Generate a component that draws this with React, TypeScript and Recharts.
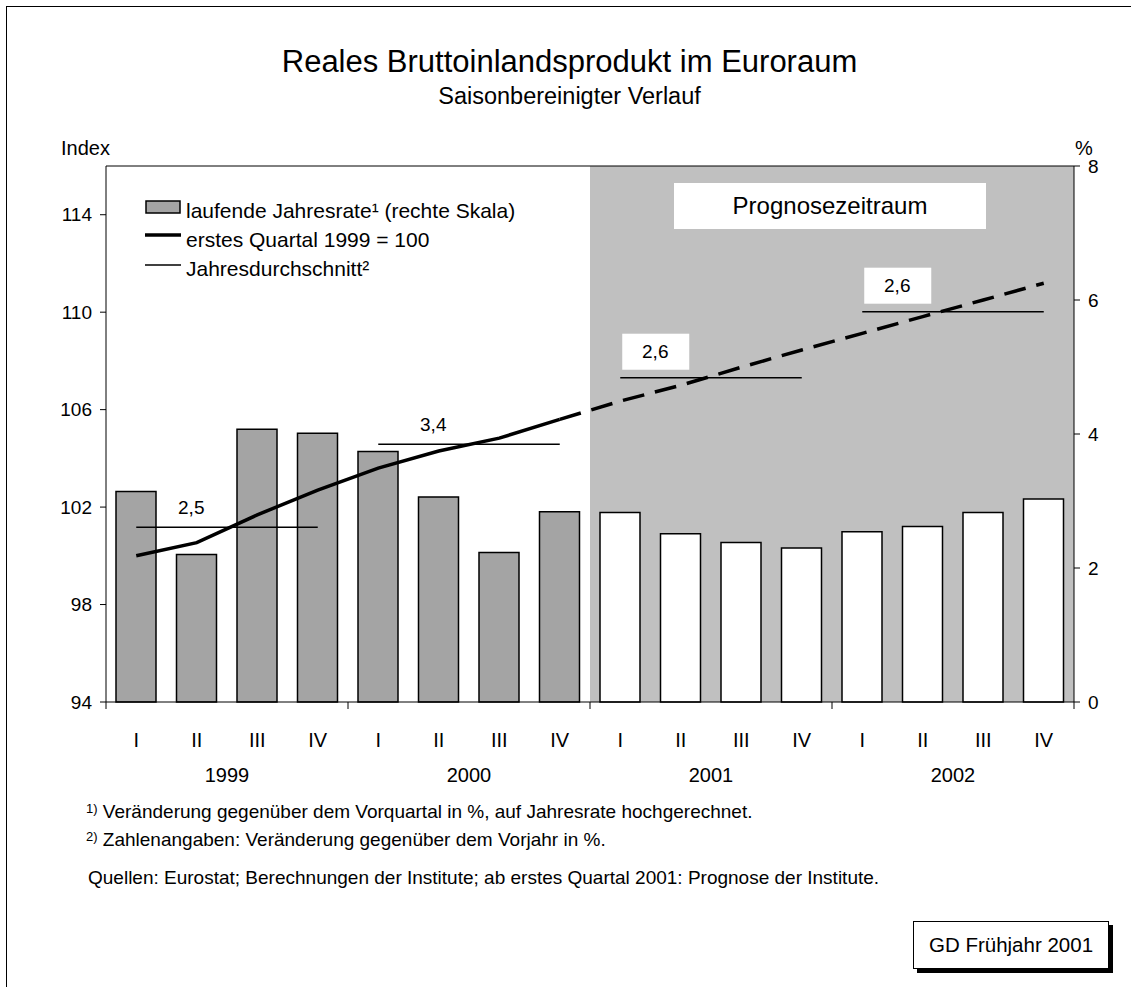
import React from 'react';
import {
  ComposedChart,
  Bar,
  Line,
  Cell,
  XAxis,
  YAxis,
  ReferenceArea,
  ReferenceLine,
} from 'recharts';

// quarters shown on the x axis
const periods = [
  '1999-I', '1999-II', '1999-III', '1999-IV',
  '2000-I', '2000-II', '2000-III', '2000-IV',
  '2001-I', '2001-II', '2001-III', '2001-IV',
  '2002-I', '2002-II', '2002-III', '2002-IV',
];
const years = ['1999', '2000', '2001', '2002'];

// laufende Jahresrate in % (right scale)
const annualRate = [3.14, 2.2, 4.07, 4.01, 3.74, 3.06, 2.23, 2.84, 2.83, 2.51, 2.38, 2.3, 2.54, 2.62, 2.83, 3.03];

// index, first quarter 1999 = 100 (left scale)
const indexActual = [100.0, 100.54, 101.68, 102.7, 103.6, 104.3, 104.83, 105.6];
// forecast path starts at 2000-IV so both pieces join
const indexForecast = [105.6, 106.35, 107.0, 107.74, 108.45, 109.13, 109.82, 110.5, 111.19];

// annual averages: index level of the line and growth label
const annualAvgLevel = [101.17, 104.58, 107.31, 110.02];
const annualAvgLabel = ['2,5', '3,4', '2,6', '2,6'];

const forecastStart = '2001-I';
const forecastIndex = periods.indexOf(forecastStart);

const leftTicks = [94, 98, 102, 106, 110, 114];
const rightTicks = [0, 2, 4, 6, 8];

const data = periods.map((p, i) => ({
  period: p,
  rate: annualRate[i],
  actual: i < indexActual.length ? indexActual[i] : null,
  forecast: i >= indexActual.length - 1 ? indexForecast[i - (indexActual.length - 1)] : null,
}));

const FONT = '"Liberation Sans", Arial, Helvetica, sans-serif';
const HIST_FILL = '#a4a4a4';
const AREA_FILL = '#c0c0c0';

const W = 1131;
const H = 987;
const LEFT_W = 106;
const RIGHT_W = 57;
const PLOT_TOP = 166;
const PLOT_BOTTOM = 702;
const XAXIS_H = 100;
const BAND = (W - LEFT_W - RIGHT_W) / periods.length;

const QuarterTick = (props: any) => {
  const { x, y, payload, index } = props;
  const [year, q] = String(payload.value).split('-');
  const half = BAND / 2;
  return (
    <g>
      <text x={x} y={y + 38} dy="0.35em" textAnchor="middle" fontSize={20} fontFamily={FONT} fill="#000">
        {q}
      </text>
      {q === 'II' && (
        <text x={x + half} y={y + 73} dy="0.35em" textAnchor="middle" fontSize={20} fontFamily={FONT} fill="#000">
          {year}
        </text>
      )}
      {q === 'I' && <line x1={x - half} x2={x - half} y1={y} y2={y + 7} stroke="#000" />}
      {index === periods.length - 1 && <line x1={x + half} x2={x + half} y1={y} y2={y + 7} stroke="#000" />}
    </g>
  );
};

const AvgLabel = (props: any) => {
  const vb = props.viewBox || {};
  const { text, boxed } = props;
  if (vb.x == null) return null;
  if (boxed) {
    return (
      <g>
        <rect x={vb.x + 2} y={vb.y - 44} width={67} height={36} fill="#fff" />
        <text x={vb.x + 35} y={vb.y - 26} dy="0.35em" textAnchor="middle" fontSize={19} fontFamily={FONT} fill="#000">
          {text}
        </text>
      </g>
    );
  }
  return (
    <text x={vb.x + 55} y={vb.y - 20} dy="0.35em" textAnchor="middle" fontSize={19} fontFamily={FONT} fill="#000">
      {text}
    </text>
  );
};

const ForecastLabel = (props: any) => {
  const vb = props.viewBox || {};
  if (vb.x == null) return null;
  const cx = vb.x + vb.width / 2 - 2;
  return (
    <g>
      <rect x={cx - 156} y={vb.y + 17} width={312} height={46} fill="#fff" />
      <text x={cx} y={vb.y + 40} dy="0.35em" textAnchor="middle" fontSize={24} fontFamily={FONT} fill="#000">
        Prognosezeitraum
      </text>
    </g>
  );
};

const Legend = () => (
  <svg width={W} height={H} style={{ position: 'absolute', left: 0, top: 0, pointerEvents: 'none' }}>
    <g fontFamily={FONT} fontSize={21} fill="#000">
      <rect x={146} y={201} width={34} height={12} fill={HIST_FILL} stroke="#000" strokeWidth={1.5} />
      <text x={186} y={218}>laufende Jahresrate¹ (rechte Skala)</text>
      <line x1={145} x2={181} y1={235} y2={235} stroke="#000" strokeWidth={3.5} />
      <text x={186} y={247}>erstes Quartal 1999 = 100</text>
      <line x1={145} x2={181} y1={265} y2={265} stroke="#000" strokeWidth={1.5} />
      <text x={186} y={276}>Jahresdurchschnitt²</text>
    </g>
  </svg>
);

const abs = (left: number, top: number, extra: React.CSSProperties = {}): React.CSSProperties => ({
  position: 'absolute',
  left,
  top,
  whiteSpace: 'nowrap',
  lineHeight: 1,
  ...extra,
});

const supStyle: React.CSSProperties = { fontSize: 13, verticalAlign: 'top', lineHeight: '13px' };

export default function App() {
  return (
    <div style={{ position: 'absolute', left: 0, top: 0, width: W, height: H, overflow: 'hidden', background: '#fff', fontFamily: FONT, color: '#000' }}>
      <div style={{ position: 'absolute', left: 6, top: 6, width: W - 6, height: H - 6, borderLeft: '1px solid #000', borderTop: '1px solid #000', boxSizing: 'border-box' }} />

      <div style={abs(8, 46, { width: W - 8, textAlign: 'center', fontSize: 31 })}>Reales Bruttoinlandsprodukt im Euroraum</div>
      <div style={abs(8, 85, { width: W - 8, textAlign: 'center', fontSize: 23.5 })}>Saisonbereinigter Verlauf</div>
      <div style={abs(61, 138, { fontSize: 20 })}>Index</div>
      <div style={abs(1075, 138, { fontSize: 20 })}>%</div>

      <div style={{ position: 'absolute', left: 0, top: 0 }}>
        <ComposedChart
          width={W}
          height={H}
          data={data}
          margin={{ top: PLOT_TOP, right: 0, bottom: H - PLOT_BOTTOM - XAXIS_H, left: 0 }}
          barSize={40}
        >
          <XAxis
            dataKey="period"
            type="category"
            interval={0}
            height={XAXIS_H}
            tickLine={false}
            tickSize={0}
            tickMargin={0}
            axisLine={{ stroke: '#000' }}
            tick={<QuarterTick />}
          />
          <YAxis
            yAxisId="left"
            orientation="left"
            width={LEFT_W}
            domain={[94, 116]}
            ticks={leftTicks}
            interval={0}
            tickSize={6}
            tickMargin={8}
            axisLine={{ stroke: '#000' }}
            tickLine={{ stroke: '#000' }}
            tick={{ fill: '#000', fontSize: 19, fontFamily: FONT }}
          />
          <YAxis
            yAxisId="right"
            orientation="right"
            width={RIGHT_W}
            domain={[0, 8]}
            ticks={rightTicks}
            interval={0}
            tickSize={6}
            tickMargin={8}
            axisLine={{ stroke: '#000' }}
            tickLine={{ stroke: '#000' }}
            tick={{ fill: '#000', fontSize: 19, fontFamily: FONT }}
          />
          <ReferenceArea
            yAxisId="left"
            x1={forecastStart}
            x2={periods[periods.length - 1]}
            fill={AREA_FILL}
            fillOpacity={1}
            stroke="none"
            label={<ForecastLabel />}
          />
          <ReferenceLine yAxisId="left" y={116} stroke="#000" strokeWidth={1} />
          <Bar yAxisId="right" dataKey="rate" stroke="#000" strokeWidth={1.5} isAnimationActive={false}>
            {data.map((d, i) => (
              <Cell key={d.period} fill={i >= forecastIndex ? '#fff' : HIST_FILL} />
            ))}
          </Bar>
          <Line
            yAxisId="left"
            type="linear"
            dataKey="actual"
            stroke="#000"
            strokeWidth={3.5}
            dot={false}
            isAnimationActive={false}
          />
          <Line
            yAxisId="left"
            type="linear"
            dataKey="forecast"
            stroke="#000"
            strokeWidth={3.5}
            strokeDasharray="22 11"
            dot={false}
            isAnimationActive={false}
          />
          {years.map((y, i) => (
            <ReferenceLine
              key={y}
              yAxisId="left"
              segment={[
                { x: `${y}-I`, y: annualAvgLevel[i] },
                { x: `${y}-IV`, y: annualAvgLevel[i] },
              ]}
              stroke="#000"
              strokeWidth={1.5}
              label={<AvgLabel text={annualAvgLabel[i]} boxed={i >= 2} />}
            />
          ))}
        </ComposedChart>
      </div>

      <Legend />

      <div style={abs(86, 802, { fontSize: 19 })}>
        <sup style={supStyle}>1)</sup> Veränderung gegenüber dem Vorquartal in %, auf Jahresrate hochgerechnet.
      </div>
      <div style={abs(86, 830, { fontSize: 19 })}>
        <sup style={supStyle}>2)</sup> Zahlenangaben: Veränderung gegenüber dem Vorjahr in %.
      </div>
      <div style={abs(88, 868, { fontSize: 19 })}>
        Quellen: Eurostat; Berechnungen der Institute; ab erstes Quartal 2001: Prognose der Institute.
      </div>

      <div
        style={{
          position: 'absolute',
          left: 913,
          top: 921,
          width: 194,
          height: 46,
          border: '1px solid #000',
          boxShadow: '4px 4px 0 #000',
          background: '#fff',
          fontSize: 20.5,
          display: 'flex',
          alignItems: 'center',
          justifyContent: 'center',
        }}
      >
        GD Frühjahr 2001
      </div>
    </div>
  );
}
